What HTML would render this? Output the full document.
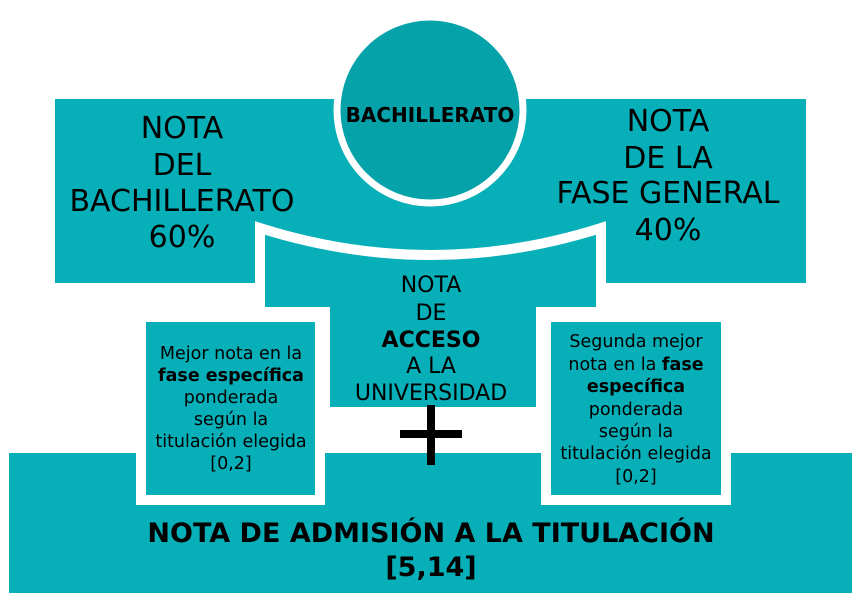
<!DOCTYPE html>
<html><head><style>body{margin:0;background:#fff}svg{display:block}</style></head><body>
<svg width="862" height="600" viewBox="0 0 862 600" font-family="'DejaVu Sans','Liberation Sans',sans-serif">
<rect x="55" y="99" width="751" height="184" fill="#07afb8"/>
<path d="M260,228 Q431,282 601,228 V312 H541 V412 H325 V312 H260 Z" fill="#07afb8" stroke="#fff" stroke-width="10" stroke-linejoin="miter"/>
<rect x="9" y="453" width="843" height="140" fill="#07afb8"/>
<rect x="141" y="317" width="179" height="183" fill="#07afb8" stroke="#fff" stroke-width="10"/>
<rect x="546" y="317" width="180" height="183" fill="#07afb8" stroke="#fff" stroke-width="10"/>
<circle cx="430" cy="110" r="93" fill="#05a2aa" stroke="#fff" stroke-width="7"/>
<rect x="427" y="405" width="8" height="60" fill="#000"/>
<rect x="400" y="430" width="62" height="8" fill="#000"/>
<g fill="#000" text-anchor="middle">
<text x="430" y="122" font-size="20" font-weight="bold">BACHILLERATO</text>
<g font-size="30">
<text x="182" y="138">NOTA</text><text x="182" y="175">DEL</text><text x="182" y="211">BACHILLERATO</text><text x="182" y="247">60%</text>
<text x="668" y="131">NOTA</text><text x="668" y="168">DE LA</text><text x="668" y="203">FASE GENERAL</text><text x="668" y="240">40%</text>
</g>
<g font-size="22">
<text x="431" y="292">NOTA</text><text x="431" y="320">DE</text><text x="431" y="347" font-weight="bold">ACCESO</text><text x="431" y="373">A LA</text><text x="431" y="400">UNIVERSIDAD</text>
</g>
<g font-size="17.5">
<text x="231" y="359">Mejor nota en la</text><text x="231" y="381" font-weight="bold">fase específica</text><text x="231" y="403">ponderada</text><text x="231" y="425">según la</text><text x="231" y="447">titulación elegida</text><text x="231" y="469">[0,2]</text>
<text x="636" y="347">Segunda mejor</text><text x="636" y="370">nota en la <tspan font-weight="bold">fase</tspan></text><text x="636" y="392" font-weight="bold">específica</text><text x="636" y="415">ponderada</text><text x="636" y="437">según la</text><text x="636" y="459">titulación elegida</text><text x="636" y="482">[0,2]</text>
</g>
<g font-size="27" font-weight="bold">
<text x="431" y="542">NOTA DE ADMISIÓN A LA TITULACIÓN</text><text x="431" y="576">[5,14]</text>
</g>
</g>
</svg>
</body></html>
